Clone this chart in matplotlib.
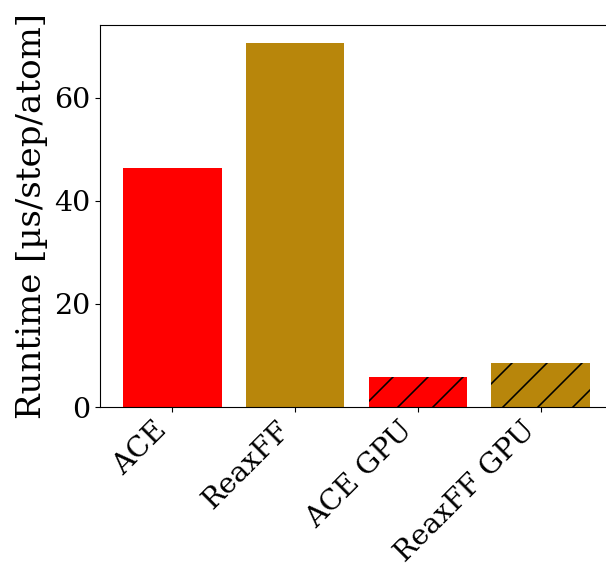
import matplotlib
matplotlib.use("Agg")
import matplotlib.pyplot as plt

labels = ["ACE", "ReaxFF", "ACE GPU", "ReaxFF GPU"]
runtimes = [46.4, 70.6, 5.9, 8.6]
colors = ["red", "darkgoldenrod", "red", "darkgoldenrod"]
hatches = ["", "", "/", "/"]

# dpi picked for the hatch spacing; line and font sizes scaled to suit
dpi = 105
s = 100 / dpi
plt.rcParams["font.family"] = "DejaVu Serif"
plt.rcParams["hatch.linewidth"] = 1.1
plt.rcParams["axes.linewidth"] = 0.8 * s
plt.rcParams["xtick.major.width"] = 0.8 * s
plt.rcParams["ytick.major.width"] = 0.8 * s
plt.rcParams["xtick.major.size"] = 3.5 * s
plt.rcParams["ytick.major.size"] = 3.5 * s
plt.rcParams["xtick.major.pad"] = 3.5 * s
plt.rcParams["ytick.major.pad"] = 3.5 * s

fig = plt.figure(figsize=(606 / dpi, 567 / dpi), dpi=dpi)
ax = fig.add_axes([100 / 606, (567 - 407) / 567, 513 / 606, 382 / 567])

x = range(len(labels))
ax.bar(x, runtimes, width=0.8, color=colors, hatch=hatches)

ax.set_xticks(list(x))
ax.set_xticklabels(labels, rotation=45, ha="right")
ax.tick_params(labelsize=20.5 * s)
ax.set_ylabel("Runtime [µs/step/atom]", fontsize=24.5 * s)

fig.savefig("out.png", dpi=dpi)
